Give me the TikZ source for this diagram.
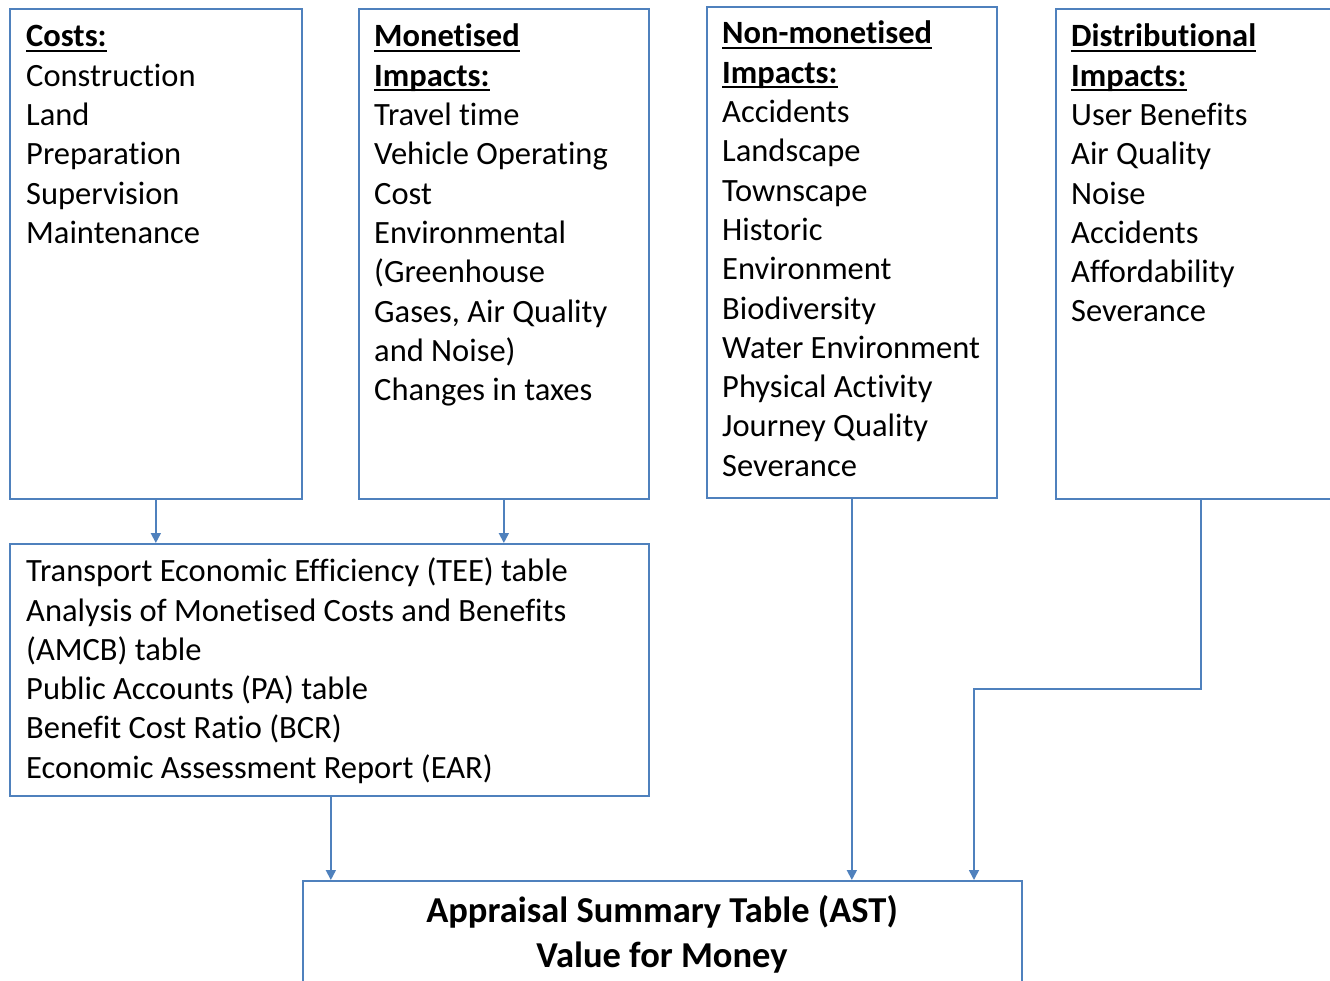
\documentclass[tikz,border=0pt]{standalone}
\usepackage{fontspec}
\setmainfont[RawFeature={-liga;-dlig;-clig}]{Carlito}
\usetikzlibrary{arrows.meta}
\definecolor{lineblue}{RGB}{79,129,189}
\newcommand{\hdul}[1]{\setbox0\hbox{#1}\rlap{\rule[-5pt]{\wd0}{2pt}}\box0}
\begin{document}
\begin{tikzpicture}[x=1pt,y=-1pt,
  box/.style={draw=lineblue,line width=1.7pt,rectangle,inner sep=0pt,anchor=north west},
  txt/.style={anchor=north west,inner sep=0pt,align=left,text=black,font=\fontsize{32.5pt}{39.3pt}\selectfont},
  asttxt/.style={inner sep=0pt,align=center,text=black,font=\fontsize{36.5pt}{45pt}\selectfont\bfseries},
  arr/.style={draw=lineblue,line width=1.7pt,-{Triangle[width=10pt,length=10pt]}}]
\useasboundingbox (0,0) rectangle (1330,981);
\clip (0,0) rectangle (1330,981);
\fill[white] (0,0) rectangle (1330,981);
% boxes
\node[box,minimum width=292pt,minimum height=490pt] (costs) at (9,8) {};
\node[box,minimum width=290pt,minimum height=490pt] (mon) at (358,8) {};
\node[box,minimum width=290pt,minimum height=491pt] (nonmon) at (706,6) {};
\node[box,minimum width=290pt,minimum height=490pt] (dist) at (1055,8) {};
\node[box,minimum width=639pt,minimum height=252pt] (tee) at (9,543) {};
\node[box,minimum width=719pt,minimum height=160pt] (ast) at (302,880) {};
% texts
\node[txt] (coststxt) at (26,16.7) {\rule{0pt}{30pt}\hdul{\textbf{Costs:}}\\Construction\\Land\\Preparation\\Supervision\\Maintenance};
\node[txt] (montxt) at (374,16.7) {\rule{0pt}{30pt}\hdul{\textbf{Monetised}}\\\hdul{\textbf{Impacts:}}\\Travel time\\Vehicle Operating\\Cost\\Environmental\\(Greenhouse\\Gases, Air Quality\\and Noise)\\Changes in taxes};
\node[txt] (nonmontxt) at (722,13.7) {\rule{0pt}{30pt}\hdul{\textbf{Non-monetised}}\\\hdul{\textbf{Impacts:}}\\Accidents\\Landscape\\Townscape\\Historic\\Environment\\Biodiversity\\Water Environment\\Physical Activity\\Journey Quality\\Severance};
\node[txt] (disttxt) at (1071,16.7) {\rule{0pt}{30pt}\hdul{\textbf{Distributional}}\\\hdul{\textbf{Impacts:}}\\User Benefits\\Air Quality\\Noise\\Accidents\\Affordability\\Severance};
\node[txt] (teetxt) at (26,551.5) {\rule{0pt}{30pt}Transport Economic Efficiency (TEE) table\\Analysis of Monetised Costs and Benefits\\(AMCB) table\\Public Accounts (PA) table\\Benefit Cost Ratio (BCR)\\Economic Assessment Report (EAR)};
\node[asttxt,anchor=north] (asttext) at (662,892) {\rule{0pt}{30pt}Appraisal Summary Table (AST)\\Value for Money};
% connectors
\draw[arr] (costs.south) -- (costs.south |- tee.north);
\draw[arr] (mon.south) -- (mon.south |- tee.north);
\draw[arr] ([xshift=1.5pt]tee.south) -- ([xshift=1.5pt]tee.south |- ast.north);
\draw[arr] (nonmon.south) -- (nonmon.south |- ast.north);
\coordinate (bend) at (974,689);
\draw[arr] (dist.south) |- (bend) -- (bend |- ast.north);
\end{tikzpicture}
\end{document}
